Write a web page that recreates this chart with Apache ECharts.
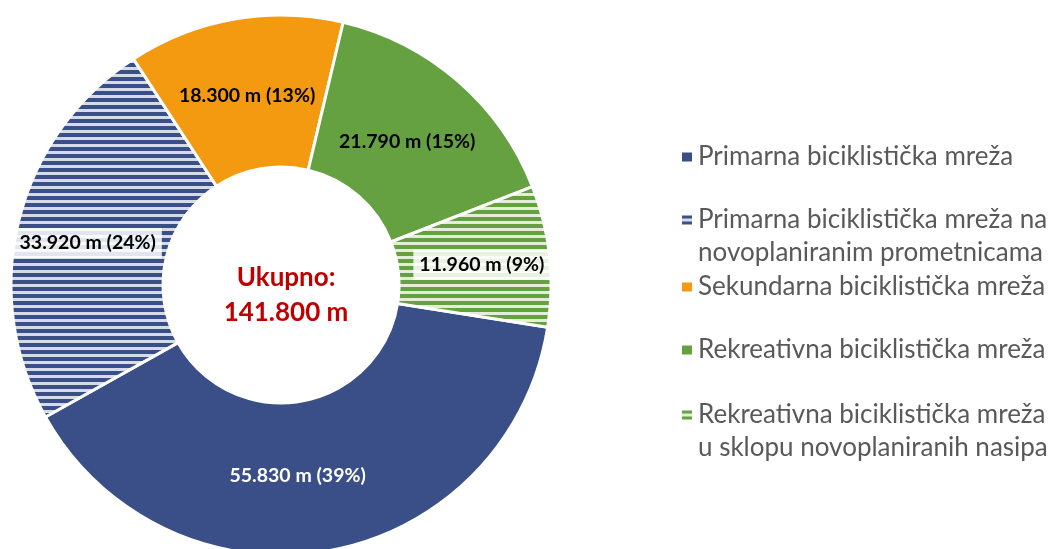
<!DOCTYPE html>
<html>
<head>
<meta charset="utf-8">
<script src="https://cdn.jsdelivr.net/npm/echarts@6/dist/echarts.min.js"></script>
<style>
html,body{margin:0;padding:0;background:#fff;}
#main{width:1053px;height:549px;}
</style>
</head>
<body>
<div id="main"></div>
<script>
// ---- data ----
const categories = [
  'Primarna biciklistička mreža',
  'Primarna biciklistička mreža na\nnovoplaniranim prometnicama',
  'Sekundarna biciklistička mreža',
  'Rekreativna biciklistička mreža',
  'Rekreativna biciklistička mreža\nu sklopu novoplaniranih nasipa'
];
const lengthsM = [55830, 33920, 18300, 21790, 11960];
const percentLabels = [39, 24, 13, 15, 9];
const totalTitle = 'Ukupno:';

// ---- styles ----
function stripes(dark, light) {
  const c = document.createElement('canvas');
  c.width = 8; c.height = 7;
  const g = c.getContext('2d');
  g.fillStyle = light; g.fillRect(0, 0, 8, 7);
  g.fillStyle = dark; g.fillRect(0, 0, 8, 4);
  return { image: c, repeat: 'repeat' };
}
const fills = [
  '#3A4F87',
  stripes('#3A4F87', '#D5DBE8'),
  '#F49A10',
  '#65A041',
  stripes('#65A041', '#E2EED8')
];
const labelColors = ['#ffffff', '#000000', '#000000', '#000000', '#000000'];
const hatched = [false, true, false, false, true];
const labelNudge = [[-18, -3], [-2, 5], [0, 5], [-3, 5], [5, 1]];
const legendLineCenters = [157, 220, 287, 350, 415];

const fmt = v => String(v).replace(/\B(?=(\d{3})+(?!\d))/g, '.');
const total = lengthsM.reduce((a, b) => a + b, 0);

const chart = echarts.init(document.getElementById('main'), null, { renderer: 'canvas' });

const FONT = 'Lato, "Open Sans", sans-serif';
const LH = 33;

const legends = categories.map((name, i) => {
  const twoLine = name.indexOf('\n') >= 0;
  return {
    data: [name],
    orient: 'vertical',
    left: 680,
    top: legendLineCenters[i] - (twoLine ? 49.5 : 16.5),
    padding: 0,
    itemWidth: 12,
    itemHeight: 11,
    selectedMode: false,
    icon: 'rect',
    formatter: n => (n.indexOf('\n') >= 0 ? '\n' + n : n),
    textStyle: {
      fontFamily: FONT,
      fontSize: 26,
      color: '#595959',
      lineHeight: LH
    }
  };
});

const option = {
  backgroundColor: '#ffffff',
  animation: false,
  legend: legends,
  graphic: [{
    type: 'text',
    x: 286, y: 295,
    style: {
      text: totalTitle + '\n' + fmt(total) + ' m',
      fontFamily: FONT,
      fontWeight: 'bold',
      fontSize: 26,
      lineHeight: 35,
      fill: '#C00000',
      align: 'center',
      verticalAlign: 'middle'
    }
  }],
  series: [{
    type: 'pie',
    center: [281, 285],
    radius: [118, 270],
    startAngle: -9,
    clockwise: true,
    avoidLabelOverlap: false,
    itemStyle: { borderColor: '#ffffff', borderWidth: 3 },
    label: {
      position: 'inside',
      fontFamily: FONT,
      fontWeight: 'bold',
      fontSize: 19.5
    },
    labelLine: { show: false },
    emphasis: { disabled: true },
    labelLayout: function (p) {
      const n = labelNudge[p.dataIndex];
      return { dx: n[0], dy: n[1] };
    },
    data: categories.map((name, i) => ({
      name: name,
      value: lengthsM[i],
      itemStyle: { color: fills[i] },
      label: {
        formatter: fmt(lengthsM[i]) + ' m (' + percentLabels[i] + '%)',
        color: labelColors[i],
        backgroundColor: hatched[i] ? 'rgba(255,255,255,0.85)' : 'transparent',
        padding: hatched[i] ? [6, 6, 4, 6] : 0
      }
    }))
  }]
};
chart.setOption(option);
</script>
</body>
</html>
